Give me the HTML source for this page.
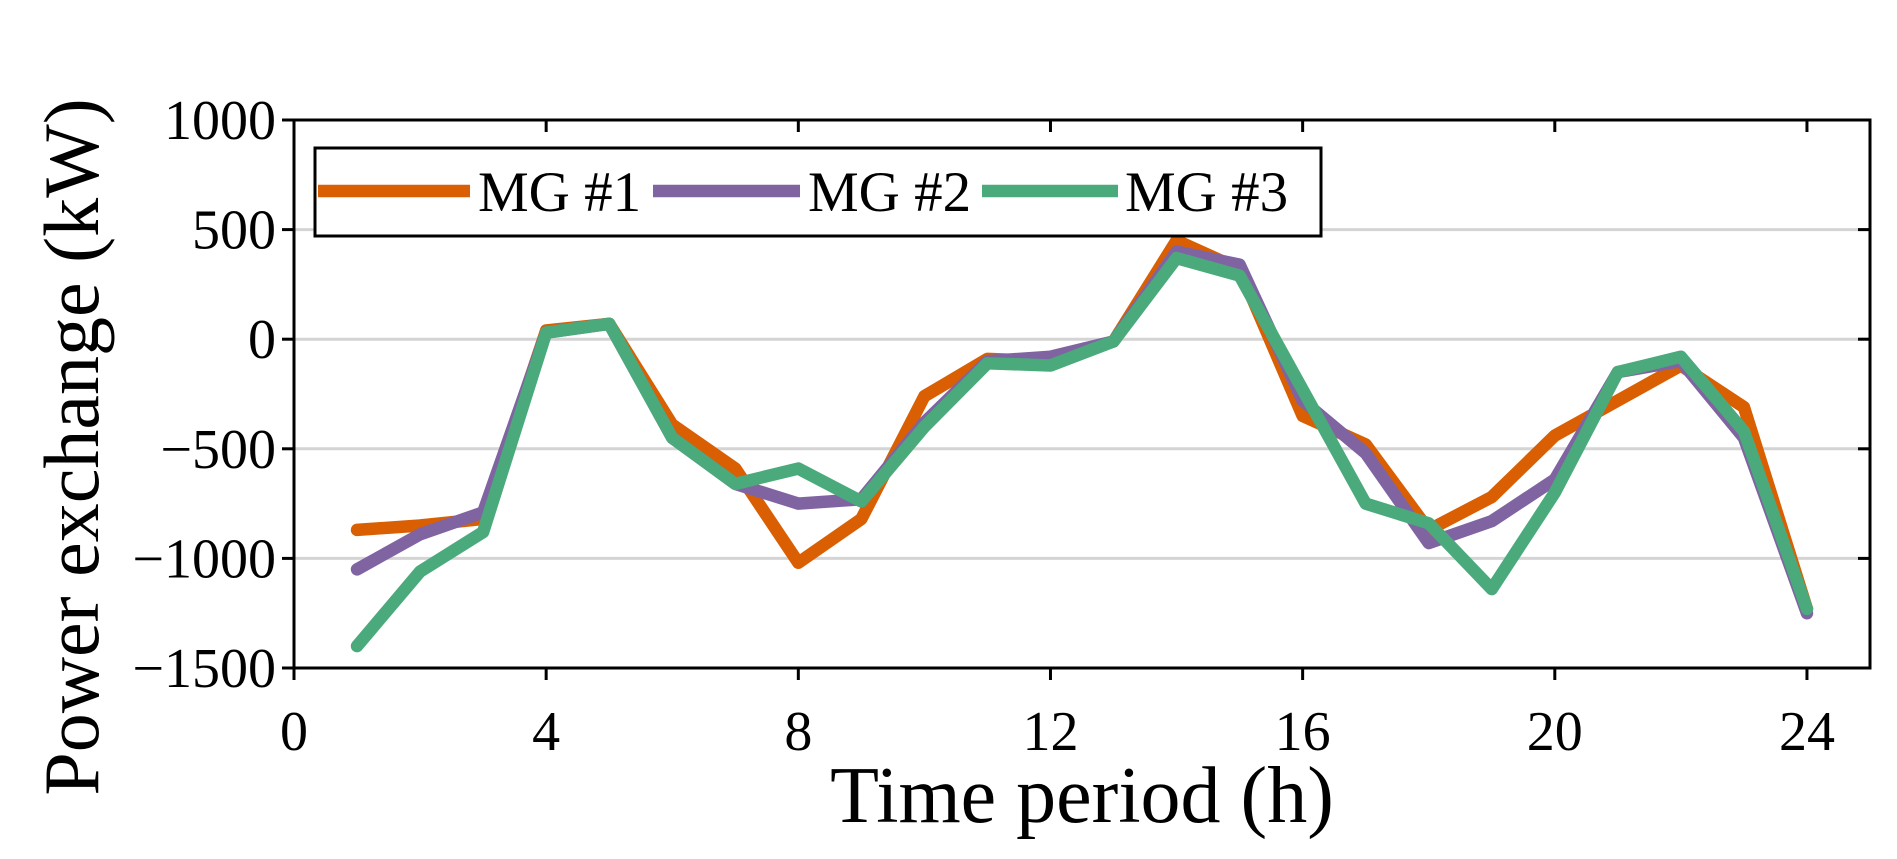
<!DOCTYPE html>
<html><head><meta charset="utf-8"><style>
html,body{margin:0;padding:0;background:#fff;}
svg{display:block;font-family:"Liberation Serif",serif;}
</style></head><body>
<svg id="chart" width="1897" height="859" viewBox="0 0 1897 859" xmlns="http://www.w3.org/2000/svg">
<g id="grid"></g>
<g id="series"></g>
<g id="axes"></g>
<g id="legend"></g>
</svg>
<script>
const hours = [1,2,3,4,5,6,7,8,9,10,11,12,13,14,15,16,17,18,19,20,21,22,23,24];
const mg1 = [-870,-850,-820,40,70,-390,-590,-1020,-820,-260,-90,-100,-10,450,320,-350,-480,-870,-720,-440,-280,-120,-310,-1230];
const mg2 = [-1050,-890,-790,30,70,-450,-660,-750,-730,-380,-100,-80,-10,400,340,-280,-520,-930,-830,-640,-150,-100,-450,-1250];
const mg3 = [-1400,-1060,-880,30,70,-450,-660,-590,-740,-400,-110,-120,-10,370,290,-230,-750,-840,-1140,-700,-150,-80,-420,-1230];
const seriesNames = ["MG #1","MG #2","MG #3"];
const xTicks = [0,4,8,12,16,20,24];
const yTicks = [1000,500,0,-500,-1000,-1500];
const yTickLabels = ["1000","500","0","\u2212500","\u22121000","\u22121500"];

const L=294,R=1870,T=120,B=668;
const xMin=0,xMax=25,yMin=-1500,yMax=1000;
const sx=v=>L+(v-xMin)/(xMax-xMin)*(R-L);
const sy=v=>B-(v-yMin)/(yMax-yMin)*(B-T);
const NS="http://www.w3.org/2000/svg";
function mk(tag,attrs,parent){const e=document.createElementNS(NS,tag);for(const k in attrs)e.setAttribute(k,attrs[k]);parent.appendChild(e);return e;}
const grid=document.getElementById('grid'),ser=document.getElementById('series'),axes=document.getElementById('axes'),leg=document.getElementById('legend');

yTicks.forEach(v=>{
  if(v>yMin&&v<yMax){
    const g=mk('line',{x1:L,x2:R,y1:sy(v),y2:sy(v),stroke:'#d4d4d4','stroke-width':3},grid);
    
    
  }
});

const colors=["#D95F02","#8064A2","#4BAA7B"];
[mg1,mg2,mg3].forEach((arr,i)=>{
  const p=mk('polyline',{points:arr.map((v,j)=>sx(hours[j])+','+sy(v)).join(' '),fill:'none',stroke:colors[i],'stroke-width':12.5,'stroke-linejoin':'round','stroke-linecap':'round'},ser);
  
  
});

const frame=mk('rect',{x:L,y:T,width:R-L,height:B-T,fill:'none',stroke:'#000','stroke-width':3},axes);



yTicks.forEach((v,i)=>{
  mk('line',{x1:L-12,x2:L,y1:sy(v),y2:sy(v),stroke:'#000','stroke-width':3},axes);
  mk('line',{x1:R-12,x2:R,y1:sy(v),y2:sy(v),stroke:'#000','stroke-width':3},axes);
  const t=mk('text',{x:L-18,y:sy(v)+19,'text-anchor':'end','font-size':56,fill:'#000'},axes);
  t.textContent=yTickLabels[i];
  
  
});
xTicks.forEach(v=>{
  mk('line',{x1:sx(v),x2:sx(v),y1:B,y2:B+12,stroke:'#000','stroke-width':3},axes);
  mk('line',{x1:sx(v),x2:sx(v),y1:T,y2:T+12,stroke:'#000','stroke-width':3},axes);
  const t=mk('text',{x:sx(v),y:750,'text-anchor':'middle','font-size':56,fill:'#000'},axes);
  t.textContent=String(v);
  
  
});
const xt=mk('text',{x:1082,y:822,'text-anchor':'middle','font-size':80,fill:'#000'},axes);
xt.textContent='Time period (h)';


const yt=mk('text',{x:0,y:0,'text-anchor':'middle','font-size':78,fill:'#000',transform:'translate(98,447) rotate(-90)'},axes);
yt.textContent='Power exchange (kW)';



const box=mk('rect',{x:315,y:148,width:1006,height:88,fill:'#fff',stroke:'#000','stroke-width':3},leg);


const lx=[[318,470,478],[653,800,808],[982,1118,1125]];
seriesNames.forEach((n,i)=>{
  const ln=mk('line',{x1:lx[i][0],x2:lx[i][1],y1:191,y2:191,stroke:colors[i],'stroke-width':12.5},leg);
  
  
  const t=mk('text',{x:lx[i][2],y:211,'font-size':57,fill:'#000'},leg);
  t.textContent=n;
  
  
});
</script>
</body></html>
